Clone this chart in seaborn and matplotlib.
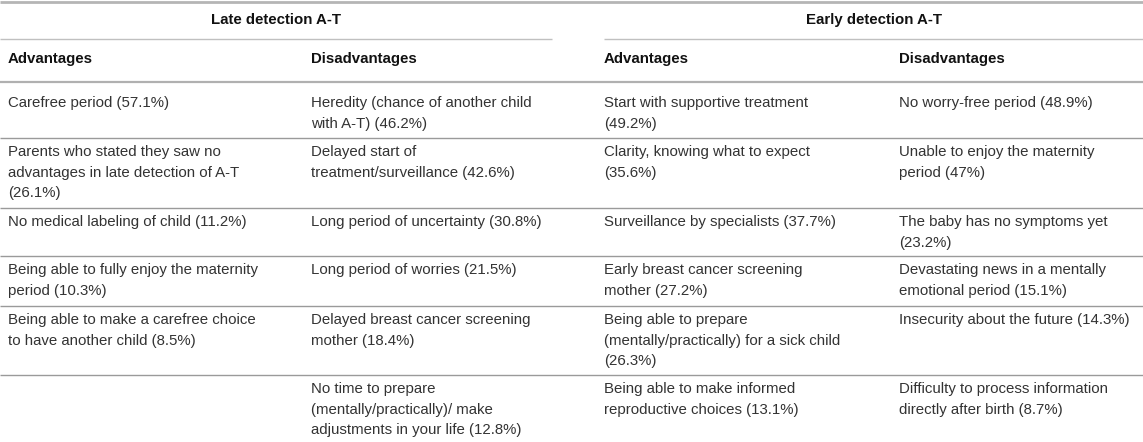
import matplotlib
matplotlib.use("Agg")
import matplotlib.pyplot as plt
import seaborn as sns

# Table content
group_titles = ["Late detection A-T", "Early detection A-T"]
column_titles = ["Advantages", "Disadvantages", "Advantages", "Disadvantages"]

late_adv = [
    "Carefree period (57.1%)",
    "Parents who stated they saw no\nadvantages in late detection of A-T\n(26.1%)",
    "No medical labeling of child (11.2%)",
    "Being able to fully enjoy the maternity\nperiod (10.3%)",
    "Being able to make a carefree choice\nto have another child (8.5%)",
    "",
]
late_dis = [
    "Heredity (chance of another child\nwith A-T) (46.2%)",
    "Delayed start of\ntreatment/surveillance (42.6%)",
    "Long period of uncertainty (30.8%)",
    "Long period of worries (21.5%)",
    "Delayed breast cancer screening\nmother (18.4%)",
    "No time to prepare\n(mentally/practically)/ make\nadjustments in your life (12.8%)",
]
early_adv = [
    "Start with supportive treatment\n(49.2%)",
    "Clarity, knowing what to expect\n(35.6%)",
    "Surveillance by specialists (37.7%)",
    "Early breast cancer screening\nmother (27.2%)",
    "Being able to prepare\n(mentally/practically) for a sick child\n(26.3%)",
    "Being able to make informed\nreproductive choices (13.1%)",
]
early_dis = [
    "No worry-free period (48.9%)",
    "Unable to enjoy the maternity\nperiod (47%)",
    "The baby has no symptoms yet\n(23.2%)",
    "Devastating news in a mentally\nemotional period (15.1%)",
    "Insecurity about the future (14.3%)",
    "Difficulty to process information\ndirectly after birth (8.7%)",
]
columns = [late_adv, late_dis, early_adv, early_dis]

# Layout (pixels)
W, H = 1143, 442
col_x = [8, 311, 604, 899]
group_spans = [(0, 552), (604, W)]
row_lines = [82, 138, 208, 256, 306, 375]
first_offset = [21, 14, 14, 14, 14, 14]
line_step = 20.6

sns.set_theme(style="white")
plt.rcParams["font.family"] = ["Liberation Sans", "DejaVu Sans"]

fig = plt.figure(figsize=(W / 100, H / 100), dpi=100)
ax = fig.add_axes([0, 0, 1, 1])
ax.set_xlim(0, W)
ax.set_ylim(H, 0)
ax.axis("off")

body_color = "#333333"
head_color = "#111111"
fs = 10.8

# rules
ax.hlines(2, 0, W, color="#b5b5b5", lw=2.0)
for (x0, x1) in group_spans:
    ax.hlines(39, x0, x1, color="#c0c0c0", lw=1.0)
ax.hlines(82, 0, W, color="#b0b0b0", lw=1.6)
for y in row_lines[1:]:
    ax.hlines(y, 0, W, color="#9a9a9a", lw=1.0)

# headers
for title, (x0, x1) in zip(group_titles, group_spans):
    ax.text((x0 + x1) / 2, 20, title, ha="center", va="center",
            fontsize=fs, fontweight="bold", color=head_color)
for title, x in zip(column_titles, col_x):
    ax.text(x, 59, title, ha="left", va="center",
            fontsize=fs, fontweight="bold", color=head_color)

# body cells
for x, cells in zip(col_x, columns):
    for r, cell in enumerate(cells):
        if not cell:
            continue
        y0 = row_lines[r] + first_offset[r]
        for i, line in enumerate(cell.split("\n")):
            ax.text(x, y0 + i * line_step, line, ha="left", va="center",
                    fontsize=fs, color=body_color)

fig.savefig("out.png", dpi=100, facecolor="white")
plt.close(fig)
